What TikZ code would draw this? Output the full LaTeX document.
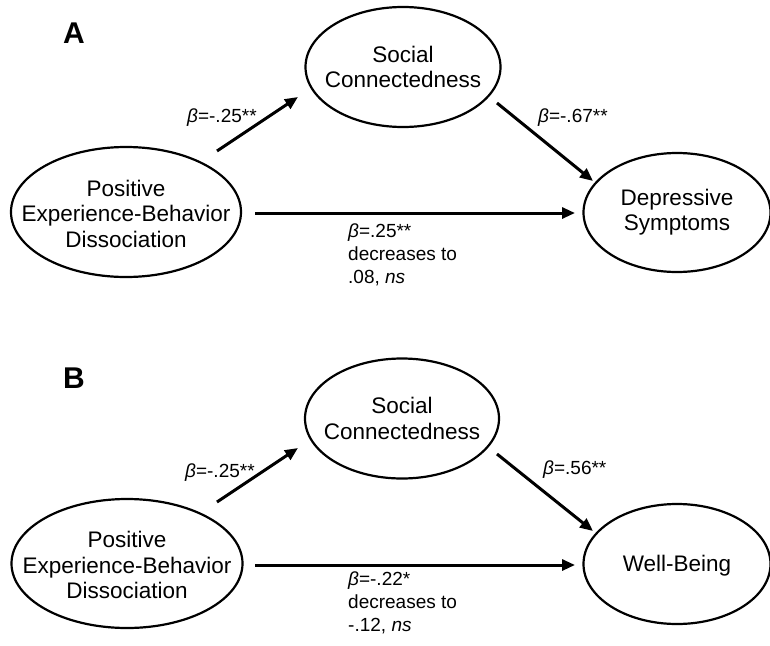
\documentclass[tikz,border=0pt]{standalone}
\usepackage{fontspec}
\setmainfont{Liberation Sans}
\usetikzlibrary{arrows.meta}
\tikzset{
  latent/.style={inner sep=0pt, align=center, font=\fontsize{22.5}{25.5}\selectfont},
  rim/.style={draw=black, line width=2.2pt},
  path/.style={line width=3pt, -{Triangle[length=13pt,width=11pt]}},
  coef/.style={anchor=west, inner sep=0pt, align=left, font=\fontsize{19}{23}\selectfont},
  panel/.style={inner sep=0pt, font=\fontsize{30}{31}\selectfont\bfseries}
}
\begin{document}
\begin{tikzpicture}[x=1pt,y=-1pt]
\useasboundingbox[fill=white] (0,0) rectangle (770,645);
% ---------- Panel A ----------
\node[panel] (lA) at (74,33) {A};
\node[latent] (scA) at (403,67) {Social\\Connectedness};
\node[latent] (peA) at (126,213.5) {Positive\\Experience-Behavior\\Dissociation};
\node[latent] (dsA) at (677,212) {Depressive\\Symptoms};
\draw[rim] (scA.center) ellipse [x radius=97.5, y radius=60];
\draw[rim] (126,212) ellipse [x radius=115, y radius=65];
\draw[rim] (677,212.5) ellipse [x radius=93.5, y radius=59.5];
\coordinate (a1s) at (217,151);  \coordinate (a1e) at (298,97);
\coordinate (a2s) at (497,103);  \coordinate (a2e) at (593,181);
\coordinate (a3s) at (255,213);  \coordinate (a3e) at (575,213);
\draw[path] (a1s) -- (a1e);
\draw[path] (a2s) -- (a2e);
\draw[path] (a3s) -- (a3e);
\node[coef] (cA1) at (187,118) {\textit{β}=-.25**};
\node[coef] (cA2) at (538,118) {\textit{β}=-.67**};
\node[coef, anchor=north west] (cA3) at (348,224) {\textit{β}=.25**\\decreases to\\.08, \textit{ns}};
% ---------- Panel B ----------
\node[panel] (lB) at (74,378) {B};
\node[latent] (scB) at (402,418.5) {Social\\Connectedness};
\node[latent] (peB) at (127,565) {Positive\\Experience-Behavior\\Dissociation};
\node[latent] (wbB) at (677,566) {Well-Being};
\draw[rim] (scB.center) ellipse [x radius=97, y radius=60];
\draw[rim] (127,563.5) ellipse [x radius=115.5, y radius=64.5];
\draw[rim] (677,564) ellipse [x radius=93.5, y radius=60];
\coordinate (b1s) at (217,502);  \coordinate (b1e) at (298,448);
\coordinate (b2s) at (497,454);  \coordinate (b2e) at (593,531);
\coordinate (b3s) at (255,565);  \coordinate (b3e) at (575,565);
\draw[path] (b1s) -- (b1e);
\draw[path] (b2s) -- (b2e);
\draw[path] (b3s) -- (b3e);
\node[coef] (cB1) at (185,473) {\textit{β}=-.25**};
\node[coef] (cB2) at (543,470) {\textit{β}=.56**};
\node[coef, anchor=north west] (cB3) at (348,572) {\textit{β}=-.22*\\decreases to\\-.12, \textit{ns}};
\end{tikzpicture}
\end{document}
